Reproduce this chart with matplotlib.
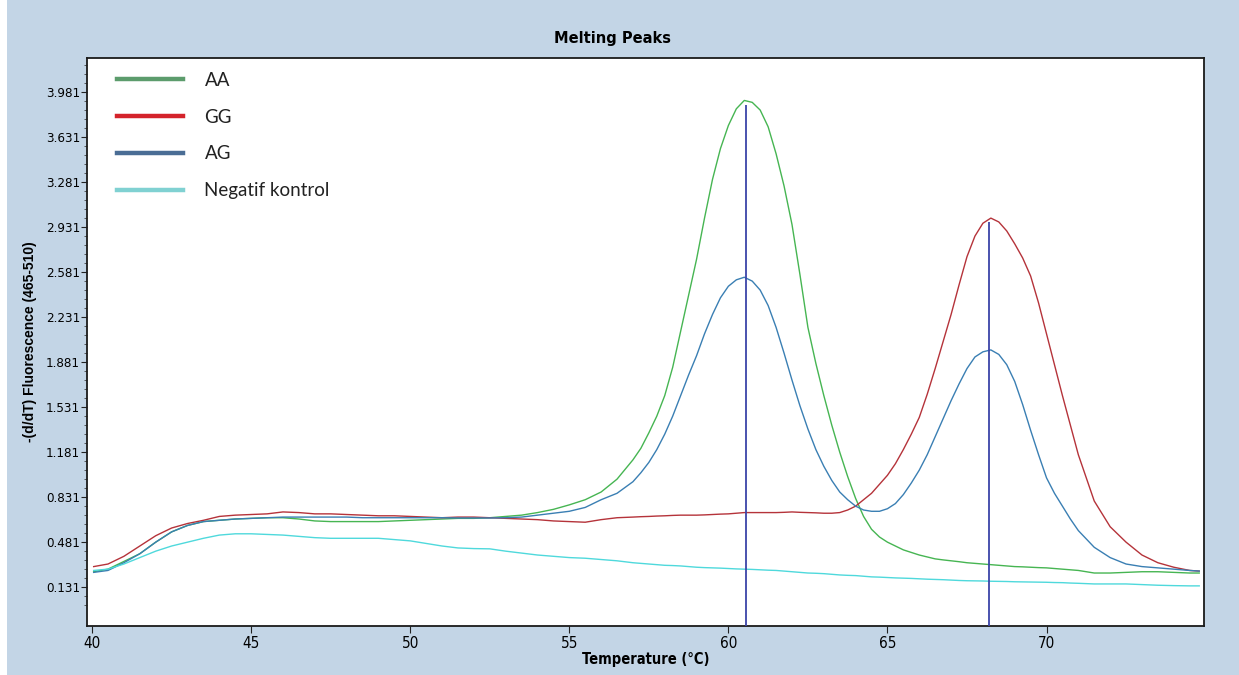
import matplotlib
matplotlib.use("Agg")
import matplotlib.pyplot as plt
from matplotlib.lines import Line2D
from matplotlib.patches import Rectangle
from matplotlib import font_manager

# ---------------- data ----------------
temperature = [40.05, 40.5, 41.0, 41.5, 42.0, 42.5, 43.0, 43.5, 44.0, 44.5,
               45.0, 45.5, 46.0, 46.5, 47.0, 47.5, 48.0, 48.5, 49.0, 49.5,
               50.0, 50.5, 51.0, 51.5, 52.0, 52.5, 53.0, 53.5, 54.0, 54.5,
               55.0, 55.5, 56.0, 56.5,
               57.0, 57.25, 57.5, 57.75, 58.0, 58.25, 58.5, 58.75, 59.0, 59.25,
               59.5, 59.75, 60.0, 60.25, 60.5, 60.75, 61.0, 61.25, 61.5, 61.75,
               62.0, 62.25, 62.5, 62.75, 63.0, 63.25, 63.5, 63.75, 64.0, 64.25,
               64.5, 64.75, 65.0, 65.25, 65.5, 65.75, 66.0, 66.25, 66.5, 66.75,
               67.0, 67.25, 67.5, 67.75, 68.0, 68.25, 68.5, 68.75, 69.0, 69.25,
               69.5, 69.75, 70.0, 70.25, 70.5, 70.75, 71.0,
               71.5, 72.0, 72.5, 73.0, 73.5, 74.0, 74.5, 74.8]

aa = [0.25, 0.27, 0.33, 0.39, 0.48, 0.56, 0.61, 0.64, 0.65, 0.66,
      0.665, 0.67, 0.67, 0.66, 0.645, 0.64, 0.64, 0.64, 0.64, 0.645,
      0.65, 0.655, 0.66, 0.665, 0.665, 0.67, 0.68, 0.69, 0.71, 0.735,
      0.77, 0.81, 0.87, 0.97,
      1.12, 1.21, 1.33, 1.46, 1.62, 1.84, 2.12, 2.40, 2.68, 3.00,
      3.30, 3.54, 3.72, 3.85, 3.915, 3.90, 3.84, 3.71, 3.50, 3.25,
      2.95, 2.56, 2.15, 1.87, 1.62, 1.39, 1.18, 0.99, 0.82, 0.68,
      0.58, 0.52, 0.48, 0.45, 0.42, 0.40, 0.38, 0.365, 0.35, 0.342,
      0.335, 0.328, 0.32, 0.315, 0.31, 0.305, 0.30, 0.295, 0.29, 0.288,
      0.285, 0.282, 0.28, 0.275, 0.27, 0.265, 0.26,
      0.24, 0.24, 0.245, 0.25, 0.25, 0.245, 0.24, 0.24]

gg = [0.29, 0.31, 0.37, 0.45, 0.53, 0.59, 0.625, 0.65, 0.68, 0.69,
      0.695, 0.70, 0.715, 0.71, 0.70, 0.70, 0.695, 0.69, 0.685, 0.685,
      0.68, 0.675, 0.67, 0.675, 0.675, 0.67, 0.665, 0.66, 0.655, 0.645,
      0.64, 0.635, 0.655, 0.67,
      0.675, 0.678, 0.68, 0.683, 0.685, 0.688, 0.69, 0.69, 0.69, 0.692,
      0.695, 0.698, 0.70, 0.705, 0.71, 0.71, 0.71, 0.71, 0.71, 0.712,
      0.715, 0.712, 0.71, 0.708, 0.705, 0.705, 0.71, 0.73, 0.76, 0.81,
      0.86, 0.93, 1.00, 1.09, 1.20, 1.32, 1.45, 1.63, 1.83, 2.04,
      2.25, 2.48, 2.70, 2.86, 2.96, 3.00, 2.97, 2.90, 2.80, 2.69,
      2.55, 2.34, 2.10, 1.86, 1.62, 1.39, 1.16,
      0.80, 0.60, 0.48, 0.38, 0.32, 0.285, 0.26, 0.255]

ag = [0.245, 0.26, 0.32, 0.39, 0.48, 0.56, 0.61, 0.64, 0.65, 0.66,
      0.665, 0.67, 0.675, 0.675, 0.675, 0.675, 0.675, 0.67, 0.67, 0.67,
      0.67, 0.67, 0.67, 0.668, 0.668, 0.668, 0.67, 0.675, 0.69, 0.705,
      0.72, 0.75, 0.81, 0.86,
      0.95, 1.02, 1.10, 1.20, 1.32, 1.46, 1.62, 1.78, 1.93, 2.10,
      2.25, 2.38, 2.47, 2.52, 2.54, 2.51, 2.44, 2.32, 2.15, 1.95,
      1.74, 1.54, 1.36, 1.20, 1.07, 0.96, 0.87, 0.81, 0.76, 0.73,
      0.72, 0.72, 0.74, 0.78, 0.85, 0.94, 1.04, 1.16, 1.30, 1.44,
      1.58, 1.71, 1.83, 1.92, 1.96, 1.975, 1.94, 1.86, 1.73, 1.55,
      1.35, 1.16, 0.98, 0.86, 0.76, 0.66, 0.57,
      0.44, 0.36, 0.31, 0.29, 0.28, 0.27, 0.26, 0.255]

neg = [0.26, 0.27, 0.31, 0.36, 0.41, 0.45, 0.48, 0.51, 0.535, 0.545,
       0.545, 0.54, 0.535, 0.525, 0.515, 0.51, 0.51, 0.51, 0.51, 0.50,
       0.49, 0.47, 0.45, 0.435, 0.43, 0.428, 0.41, 0.395, 0.38, 0.37,
       0.36, 0.355, 0.345, 0.335,
       0.32, 0.315, 0.31, 0.305, 0.30, 0.298, 0.295, 0.29, 0.285, 0.282,
       0.28, 0.278, 0.275, 0.272, 0.27, 0.268, 0.265, 0.262, 0.26, 0.255,
       0.25, 0.245, 0.24, 0.238, 0.235, 0.23, 0.225, 0.222, 0.22, 0.215,
       0.21, 0.208, 0.205, 0.202, 0.20, 0.198, 0.195, 0.192, 0.19, 0.188,
       0.185, 0.182, 0.18, 0.179, 0.178, 0.176, 0.175, 0.174, 0.172, 0.171,
       0.17, 0.169, 0.168, 0.166, 0.165, 0.162, 0.16,
       0.155, 0.155, 0.155, 0.15, 0.145, 0.142, 0.14, 0.14]

peak_temps = [60.55, 68.2]
peak_tops = [3.88, 2.97]

series_labels = ["AA", "GG", "AG", "Negatif kontrol"]
y_ticks = [0.131, 0.481, 0.831, 1.181, 1.531, 1.881, 2.231, 2.581,
           2.931, 3.281, 3.631, 3.981]
x_ticks = [40, 45, 50, 55, 60, 65, 70]

# ---------------- style ----------------
installed = {f.name for f in font_manager.fontManager.ttflist}
legend_font = "Lato" if "Lato" in installed else "DejaVu Sans"

bg = "#c3d5e6"
curve_colors = ["#46b552", "#b5333a", "#3a7fb3", "#4fd9dc"]
legend_colors = ["#5c9c6c", "#d4232b", "#4a6d95", "#80d1d2"]
vline_color = "#3c44a8"

fig = plt.figure(figsize=(12.39, 6.75), dpi=100, facecolor=bg)
fig.patches.append(Rectangle((0, 0), 7 / 1239, 1, transform=fig.transFigure,
                             facecolor="white", edgecolor="none", zorder=-1))
ax = fig.add_axes([87 / 1239, (675 - 626) / 675, (1204 - 87) / 1239, (626 - 58) / 675])
ax.set_facecolor("white")

for vals, c in zip([aa, gg, ag, neg], curve_colors):
    ax.plot(temperature, vals, color=c, lw=1.0, zorder=3)

ax.vlines(peak_temps, -0.172, peak_tops, color=vline_color, lw=1.3, zorder=4)

ax.set_xlim(39.84, 74.95)
ax.set_ylim(-0.172, 4.245)

ax.set_yticks(y_ticks)
ax.set_yticklabels([f"{v:.3f}" for v in y_ticks], fontsize=9.5, family="DejaVu Sans",
                   fontstretch="condensed")
minor_y = [y_ticks[0] + 0.07 * k for k in range(-2, 60) if y_ticks[0] + 0.07 * k < 4.24]
ax.set_yticks(minor_y, minor=True)
ax.set_xticks(x_ticks)
ax.set_xticklabels([str(v) for v in x_ticks], fontsize=11, family="DejaVu Sans",
                   fontstretch="condensed")

ax.tick_params(axis="y", which="major", length=4, width=0.8, pad=1, colors="#222222")
ax.tick_params(axis="y", which="minor", length=2.5, width=0.6, colors="#444444")
ax.tick_params(axis="x", which="major", length=5, width=0.8, pad=2, colors="#222222")
for tl in ax.get_yticklabels() + ax.get_xticklabels():
    tl.set_color("black")

for s in ax.spines.values():
    s.set_color("#1a1a1a")
    s.set_linewidth(1.3)

ax.set_xlabel("Temperature (°C)", fontsize=10.5, fontweight="bold", family="DejaVu Sans",
              fontstretch="condensed", labelpad=1)
ax.set_ylabel("-(d/dT) Fluorescence (465-510)", fontsize=10, fontweight="bold",
              family="Liberation Sans", labelpad=6)

fig.text(612 / 1239, 1 - 39 / 675, "Melting Peaks", ha="center", va="center",
         fontsize=10.5, fontweight="bold", family="DejaVu Sans")

handles = [Line2D([0], [0], color=c, lw=3.2) for c in legend_colors]
leg = ax.legend(handles, series_labels, loc="upper left", bbox_to_anchor=(0.012, 1.005),
                frameon=False, handlelength=3.5, handletextpad=1.15, labelspacing=1.05,
                prop={"family": legend_font, "size": 13.5})
for t in leg.get_texts():
    t.set_color("#222222")

fig.savefig("out.png", dpi=100, facecolor=bg)
